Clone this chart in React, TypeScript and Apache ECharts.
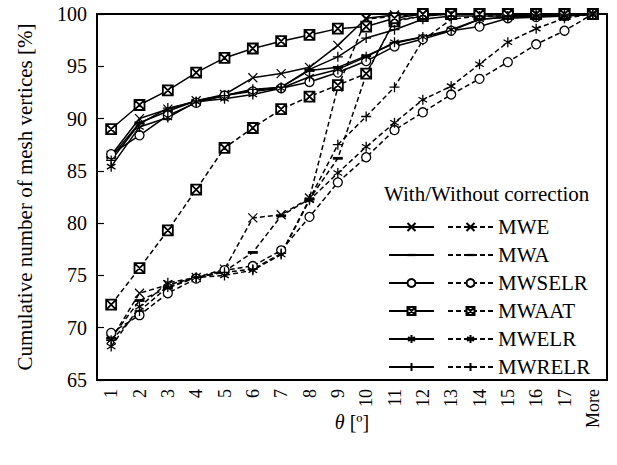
import React, { useEffect, useRef } from "react";
import * as echarts from "echarts";

const categories = ["1","2","3","4","5","6","7","8","9","10","11","12","13","14","15","16","17","More"];
const names = ["MWE", "MWA", "MWSELR", "MWAAT", "MWELR", "MWRELR"];

// With correction (solid)
const mweWith = [86.5, 90.0, 90.9, 91.7, 92.3, 93.9, 94.3, 94.9, 97.0, 99.6, 99.9, 100, 100, 100, 100, 100, 100, 100];
const mwaWith = [86.3, 89.6, 90.7, 91.7, 92.2, 92.7, 93.0, 94.6, 94.9, 96.0, 97.2, 97.8, 98.4, 99.5, 99.7, 99.8, 99.8, 100];
const mwselrWith = [86.6, 88.4, 90.3, 91.5, 92.2, 92.6, 92.9, 93.5, 94.4, 95.5, 96.9, 97.6, 98.4, 98.8, 99.6, 99.7, 99.8, 100];
const mwaatWith = [89.0, 91.3, 92.7, 94.4, 95.8, 96.7, 97.4, 98.0, 98.6, 98.8, 99.6, 100, 100, 100, 100, 100, 100, 100];
const mwelrWith = [85.4, 89.2, 90.1, 91.6, 91.9, 92.3, 92.9, 94.0, 94.7, 95.9, 97.3, 97.8, 98.5, 99.5, 99.7, 99.8, 99.8, 100];
const mwrelrWith = [86.0, 89.5, 91.0, 91.6, 92.2, 92.8, 93.0, 94.7, 95.9, 97.7, 98.5, 99.5, 99.8, 99.8, 99.8, 99.9, 99.9, 100];

// Without correction (dashed)
const mweWithout = [68.9, 73.3, 74.1, 74.8, 75.6, 80.5, 80.8, 82.4, 93.0, 99.5, 99.8, 100, 100, 100, 100, 100, 100, 100];
const mwaWithout = [69.0, 72.6, 73.8, 74.8, 75.4, 77.2, 80.7, 82.3, 86.2, 94.2, 99.4, 99.8, 100, 100, 100, 100, 100, 100];
const mwselrWithout = [69.5, 71.2, 73.3, 74.7, 75.5, 75.9, 77.4, 80.6, 83.9, 86.3, 88.9, 90.6, 92.3, 93.8, 95.4, 97.1, 98.4, 100];
const mwaatWithout = [72.2, 75.7, 79.3, 83.2, 87.2, 89.1, 90.9, 92.1, 93.2, 94.3, 99.3, 99.8, 100, 100, 100, 100, 100, 100];
const mwelrWithout = [68.2, 72.0, 74.3, 74.8, 75.0, 75.5, 77.0, 82.2, 84.8, 87.3, 89.6, 91.8, 93.1, 95.2, 97.3, 98.6, 99.6, 100];
const mwrelrWithout = [68.8, 71.6, 73.9, 74.8, 75.3, 75.6, 77.1, 82.3, 87.5, 90.2, 93.0, 97.5, 99.5, 99.8, 99.8, 99.9, 99.9, 100];

const withData = [mweWith, mwaWith, mwselrWith, mwaatWith, mwelrWith, mwrelrWith];
const withoutData = [mweWithout, mwaWithout, mwselrWithout, mwaatWithout, mwelrWithout, mwrelrWithout];

const yTicks = { min: 65, max: 100, interval: 5 };

const FONT = "Liberation Serif, Times New Roman, serif";

const SYMBOLS = [
  "path://M0,0L10,10M10,0L0,10",
  "path://M0,0L0,0M0,3.6L10,3.6L10,6.4L0,6.4ZM10,10L10,10",
  "circle",
  "path://M0,0L10,0L10,10L0,10ZM0,0L10,10M10,0L0,10",
  "path://M0,0L0,0M5,0L5,10M0.7,2.5L9.3,7.5M0.7,7.5L9.3,2.5M10,10L10,10",
  "path://M5,0L5,10M0,5L10,5",
];
const SYMBOL_SIZES = [9, 10, 9, 10, 10, 10];
const SYMBOL_STYLES = [
  { color: "#fff", borderColor: "#000", borderWidth: 1.2 },
  { color: "#000", borderColor: "#000", borderWidth: 0 },
  { color: "#fff", borderColor: "#000", borderWidth: 1.3 },
  { color: "#fff", borderColor: "#000", borderWidth: 1.8 },
  { color: "#fff", borderColor: "#000", borderWidth: 1.3 },
  { color: "#fff", borderColor: "#000", borderWidth: 1.3 },
];

export default function App() {
  const ref = useRef<HTMLDivElement>(null);
  useEffect(() => {
    if (!ref.current) return;
    const chart = echarts.init(ref.current, null, { renderer: "svg" });

    const series: any[] = [];
    names.forEach((n, i) => {
      series.push({
        name: n,
        type: "line",
        data: withoutData[i],
        symbol: SYMBOLS[i],
        symbolSize: SYMBOL_SIZES[i],
        showAllSymbol: true,
        itemStyle: SYMBOL_STYLES[i],
        lineStyle: { color: "#000", width: 1.5, type: [5, 3] },
        z: 2,
      });
    });
    names.forEach((n, i) => {
      series.push({
        name: n + " (with correction)",
        type: "line",
        data: withData[i],
        symbol: SYMBOLS[i],
        symbolSize: SYMBOL_SIZES[i],
        showAllSymbol: true,
        itemStyle: SYMBOL_STYLES[i],
        lineStyle: { color: "#000", width: 1.5, type: "solid" },
        z: 3,
      });
    });

    const legendBase = {
      orient: "vertical",
      top: 213,
      padding: 0,
      itemGap: 0,
      itemWidth: 45,
      itemHeight: 10,
      selectedMode: false,
      textStyle: { fontFamily: FONT, fontSize: 21, color: "#000", lineHeight: 28, height: 28 },
    };

    chart.setOption({
      animation: false,
      backgroundColor: "#fff",
      textStyle: { fontFamily: FONT, color: "#000" },
      grid: {
        left: 97,
        right: 10,
        top: 14,
        bottom: 85,
        show: true,
        borderColor: "#000",
        borderWidth: 2,
        backgroundColor: "transparent",
      },
      xAxis: {
        type: "category",
        data: categories,
        boundaryGap: true,
        axisLine: { lineStyle: { color: "#000", width: 2 } },
        axisTick: { inside: true, length: 6, alignWithLabel: false, lineStyle: { color: "#000", width: 1.2 } },
        axisLabel: { rotate: 90, fontSize: 18, fontFamily: FONT, color: "#000", margin: 9, interval: 0 },
        splitLine: { show: false },
        name: "{i|θ} [º]",
        nameLocation: "middle",
        nameGap: 32,
        nameMoveOverlap: false,
        nameTextStyle: {
          fontSize: 20,
          fontFamily: FONT,
          color: "#000",
          rich: { i: { fontStyle: "italic", fontSize: 20, fontFamily: FONT, color: "#000" } },
        },
      },
      yAxis: {
        type: "value",
        min: yTicks.min,
        max: yTicks.max,
        interval: yTicks.interval,
        axisLine: { show: true, lineStyle: { color: "#000", width: 2 } },
        axisTick: { show: true, inside: true, length: 7, lineStyle: { color: "#000", width: 1.2 } },
        axisLabel: { fontSize: 20, fontFamily: FONT, color: "#000", margin: 10 },
        splitLine: { show: false },
        name: "Cumulative number of mesh vertices [%]",
        nameLocation: "middle",
        nameGap: 62,
        nameMoveOverlap: false,
        nameTextStyle: { fontSize: 21, fontFamily: FONT, color: "#000" },
      },
      legend: [
        {
          ...legendBase,
          left: 388,
          data: names.map((n) => n + " (with correction)"),
          formatter: () => " ",
        },
        {
          ...legendBase,
          left: 447,
          data: names,
        },
      ],
      graphic: [
        {
          type: "text",
          left: 384,
          top: 183,
          style: { text: "With/Without correction", fontFamily: FONT, fontSize: 21, fill: "#000" },
        },
      ],
      series,
    });
    return () => chart.dispose();
  }, []);
  return <div ref={ref} style={{ position: "fixed", left: 0, top: 0, width: 617, height: 465 }} />;
}
